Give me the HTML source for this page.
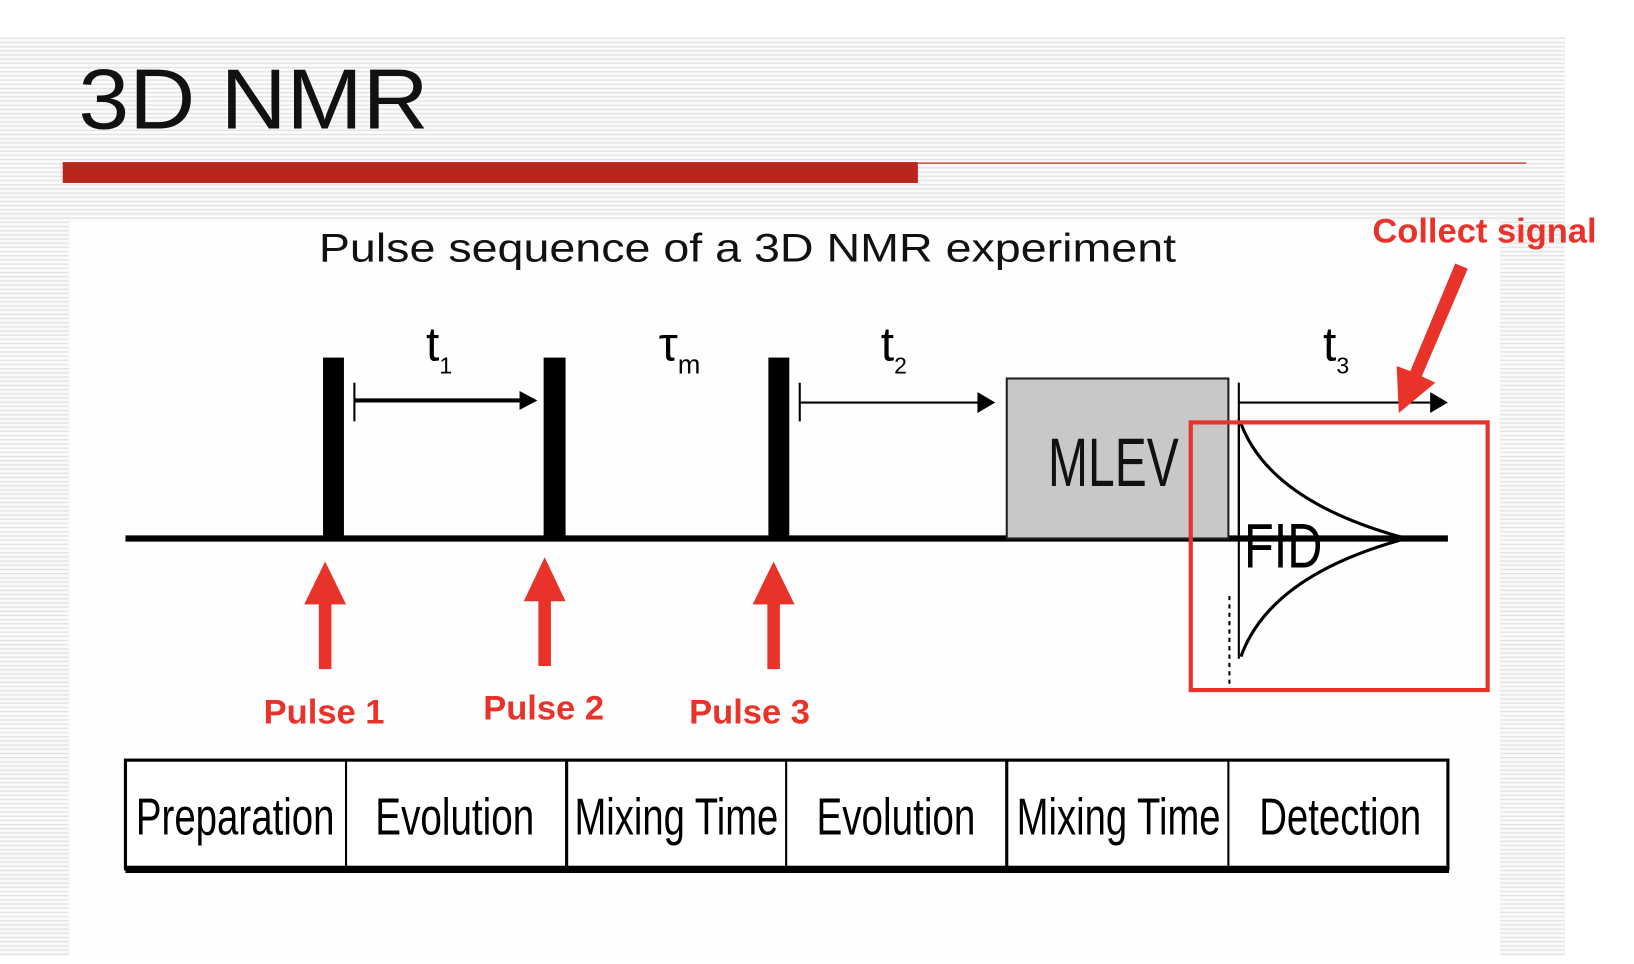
<!DOCTYPE html>
<html><head><meta charset="utf-8"><style>
html,body{margin:0;padding:0;background:#fff;width:1634px;height:964px;overflow:hidden}
svg{display:block}
text{font-family:"Liberation Sans","DejaVu Sans",sans-serif}
</style></head><body>
<svg width="1634" height="964" viewBox="0 0 1563 922" preserveAspectRatio="none">
<defs>
<pattern id="stripes" width="4" height="4" patternUnits="userSpaceOnUse"><rect width="4" height="4" fill="#fafafa"/><rect width="4" height="1.2" fill="#e2e2e2"/></pattern>
</defs>
<rect x="0" y="0" width="1563" height="922" fill="#fff"/>
<rect x="0" y="35" width="1497" height="880" fill="url(#stripes)"/>
<rect x="66" y="212" width="1369" height="703" fill="#fefefe"/>
<text x="75" y="123" font-size="82" textLength="335" lengthAdjust="spacingAndGlyphs" fill="#111">3D NMR</text>
<rect x="60" y="155" width="818" height="20" fill="#b8261e"/>
<line x1="878" y1="156" x2="1460" y2="156" stroke="#c0504d" stroke-width="1.5"/>
<text x="715" y="250" font-size="38" text-anchor="middle" textLength="820" lengthAdjust="spacingAndGlyphs" font-family="DejaVu Sans, sans-serif" fill="#111">Pulse sequence of a 3D NMR experiment</text>
<line x1="120" y1="515" x2="1385" y2="515" stroke="#000" stroke-width="6"/>
<rect x="309" y="342" width="20" height="173" fill="#000"/>
<rect x="520" y="342" width="21" height="173" fill="#000"/>
<rect x="735" y="342" width="20" height="173" fill="#000"/>
<rect x="963" y="362" width="212" height="153" fill="#c8c8c8" stroke="#222" stroke-width="2"/>
<text x="1065" y="465" font-size="66" text-anchor="middle" textLength="125" lengthAdjust="spacingAndGlyphs" fill="#111">MLEV</text>
<g><line x1="339" y1="366" x2="339" y2="403" stroke="#000" stroke-width="2"/><line x1="339" y1="383" x2="500" y2="383" stroke="#000" stroke-width="4"/><polygon points="497,374 514,383 497,392" fill="#000"/></g>
<g><line x1="765" y1="366" x2="765" y2="403" stroke="#000" stroke-width="2"/><line x1="765" y1="385" x2="940" y2="385" stroke="#000" stroke-width="2"/><polygon points="935,375 952,385 935,395" fill="#000"/></g>
<g><line x1="1185" y1="366" x2="1185" y2="515" stroke="#000" stroke-width="2"/><line x1="1185" y1="385" x2="1375" y2="385" stroke="#000" stroke-width="2"/><polygon points="1368,375 1385,385 1368,395" fill="#000"/></g>
<text x="420" y="345" font-size="46" text-anchor="middle" fill="#000">t<tspan font-size="22" dy="12">1</tspan></text>
<text x="650" y="345" font-size="46" text-anchor="middle" fill="#000">τ<tspan font-size="26" dy="12">m</tspan></text>
<text x="855" y="345" font-size="46" text-anchor="middle" fill="#000">t<tspan font-size="22" dy="12">2</tspan></text>
<text x="1278" y="345" font-size="46" text-anchor="middle" fill="#000">t<tspan font-size="22" dy="12">3</tspan></text>
<g fill="none" stroke="#000" stroke-width="3">
<line x1="1185" y1="400" x2="1185" y2="630" stroke-width="2"/>
<path d="M1187,405 Q1215,480 1345,515"/>
<path d="M1187,628 Q1215,550 1345,515"/>
<line x1="1176" y1="570" x2="1176" y2="655" stroke-width="2" stroke-dasharray="4,4"/>
</g>
<text x="1190" y="543" font-size="60" textLength="75" lengthAdjust="spacingAndGlyphs" fill="#000">FID</text>
<rect x="1139" y="404" width="284" height="256" fill="none" stroke="#e8322a" stroke-width="4"/>
<g fill="#e8322a">
<polygon points="305,640 317,640 317,578 331,578 311,537 291,578 305,578"/>
<polygon points="515,637 527,637 527,575 541,575 521,533 501,575 515,575"/>
<polygon points="734,640 746,640 746,578 760,578 740,537 720,578 734,578"/>
<polygon points="1392,252 1404,257 1360,360 1373,366 1338,395 1336,350 1349,355"/>
</g>
<g font-weight="bold" font-size="33" fill="#e8322a" text-anchor="middle">
<text x="310" y="692">Pulse 1</text>
<text x="520" y="688">Pulse 2</text>
<text x="717" y="692">Pulse 3</text>
<text x="1420" y="232">Collect signal</text>
</g>
<g>
<rect x="120" y="727" width="1265" height="104" fill="#fff" stroke="#000" stroke-width="3"/>
<rect x="120" y="828" width="1266" height="7" fill="#000"/>
<g stroke="#000" stroke-width="2">
<line x1="331" y1="727" x2="331" y2="830"/><line x1="542" y1="727" x2="542" y2="830" stroke-width="3"/>
<line x1="752" y1="727" x2="752" y2="830"/><line x1="963" y1="727" x2="963" y2="830" stroke-width="3"/>
<line x1="1175" y1="727" x2="1175" y2="830"/>
</g>
<g font-size="50" fill="#000" text-anchor="middle">
<text x="225" y="798" textLength="190" lengthAdjust="spacingAndGlyphs">Preparation</text>
<text x="435" y="798" textLength="152" lengthAdjust="spacingAndGlyphs">Evolution</text>
<text x="647" y="798" textLength="195" lengthAdjust="spacingAndGlyphs">Mixing Time</text>
<text x="857" y="798" textLength="152" lengthAdjust="spacingAndGlyphs">Evolution</text>
<text x="1070" y="798" textLength="195" lengthAdjust="spacingAndGlyphs">Mixing Time</text>
<text x="1282" y="798" textLength="155" lengthAdjust="spacingAndGlyphs">Detection</text>
</g>
</g>
</svg>
</body></html>
